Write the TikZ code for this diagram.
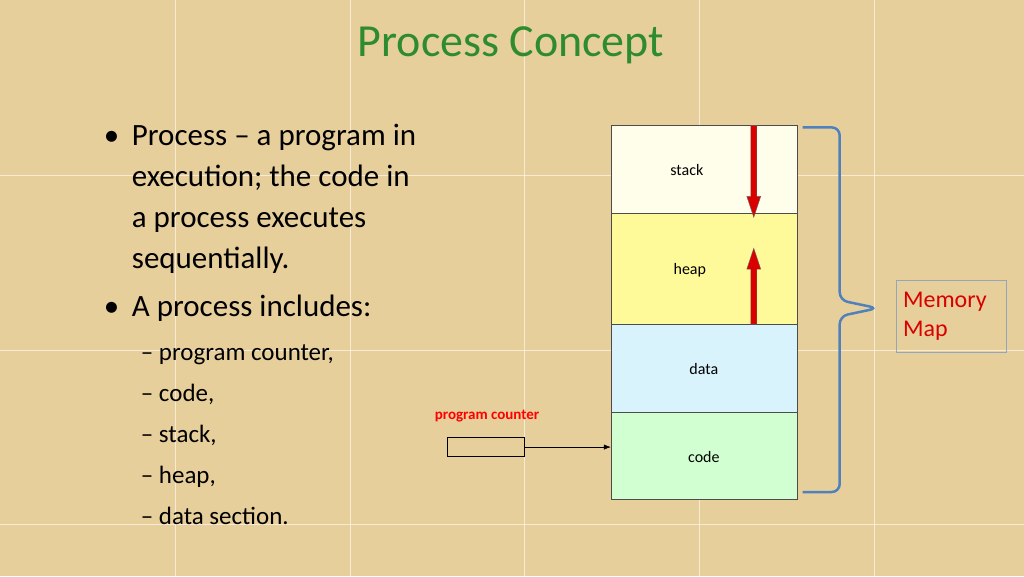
\documentclass[tikz,border=0pt]{standalone}
\usepackage{fontspec}
\setmainfont{Carlito}
\usetikzlibrary{decorations.pathreplacing,arrows.meta}
\definecolor{bg}{HTML}{E6CF9A}
\definecolor{ttl}{HTML}{2E8B2E}
\definecolor{bl}{HTML}{4F81BD}
\tikzset{seg/.style={draw=black!70,line width=0.6pt},
 lbl/.style={font=\fontsize{16}{18}\selectfont},
 redarr/.style={draw=black!60,fill=red!85!black,line width=0.4pt},
 bul/.style={anchor=base west,font=\fontsize{31}{37}\selectfont},
 sub/.style={anchor=base west,font=\fontsize{25}{30}\selectfont}}
\begin{document}
\begin{tikzpicture}[x=1pt,y=-1pt]
\fill[bg] (0,0) rectangle (1024,576);
\foreach \x in {175,350,525,700,875} \draw[white,opacity=0.6,line width=1pt] (\x,0)--(\x,576);
\foreach \y in {175,350,525} \draw[white,opacity=0.6,line width=1pt] (0,\y)--(1024,\y);
\node[text=ttl,font=\fontsize{46}{52}\selectfont] (title) at (511,45) {Process Concept};
\node[bul] (b1) at (100,145) {•};
\node[bul] (t1) at (128,145) {Process – a program in};
\node[bul] (t2) at (128,186) {execution; the code in};
\node[bul] (t3) at (128,227) {a process executes};
\node[bul] (t4) at (128,268) {sequentially.};
\node[bul] (b2) at (100,316) {•};
\node[bul] (t5) at (128,316) {A process includes:};
\node[sub] (s1) at (137,360) {– program counter,};
\node[sub] (s2) at (137,401) {– code,};
\node[sub] (s3) at (137,442) {– stack,};
\node[sub] (s4) at (137,483) {– heap,};
\node[sub] (s5) at (137,525) {– data section.};
% memory map
\node[seg,fill=yellow!8,minimum width=186pt,minimum height=88pt,anchor=north west] (stack) at (611,125) {};
\node[seg,fill=yellow!40,minimum width=186pt,minimum height=111pt,anchor=north west] (heap) at (611,213) {};
\node[seg,fill=cyan!15,minimum width=186pt,minimum height=88pt,anchor=north west] (data) at (611,324) {};
\node[seg,fill=green!18,minimum width=186pt,minimum height=87pt,anchor=north west] (code) at (611,412) {};
\node[lbl] (ls) at (687,170) {stack};
\node[lbl] (lh) at (690,270) {heap};
\node[lbl] (ld) at (704,369) {data};
\node[lbl] (lc) at (704,457) {code};
\fill[redarr] (751,125)--(757,125)--(757,196)--(761,196)--(754,217)--(747,196)--(751,196)--cycle;
\fill[redarr] (751,324)--(757,324)--(757,269)--(761,269)--(754,248)--(747,269)--(751,269)--cycle;
\draw[bl,line width=2.5pt,rounded corners=8pt] (803,127)--(840,127)--(840,300)--(878,308)--(840,316)--(840,492)--(803,492);
\node[draw=bl!50!gray!70,text=red!85!black,font=\fontsize{24}{29}\selectfont,align=left,minimum width=110pt,minimum height=72pt,text width=97pt] (mm) at (952,316) {Memory\\Map};
\node[draw=black,minimum width=77pt,minimum height=19pt] (pc) at (486,447) {};
\node[text=red,font=\bfseries\fontsize{15}{18}\selectfont] (pcl) at (487,416) {program counter};
\draw[-{Latex[length=7pt]},line width=0.6pt] (pc.east)--(code.west|-pc.east);
\end{tikzpicture}
\end{document}
